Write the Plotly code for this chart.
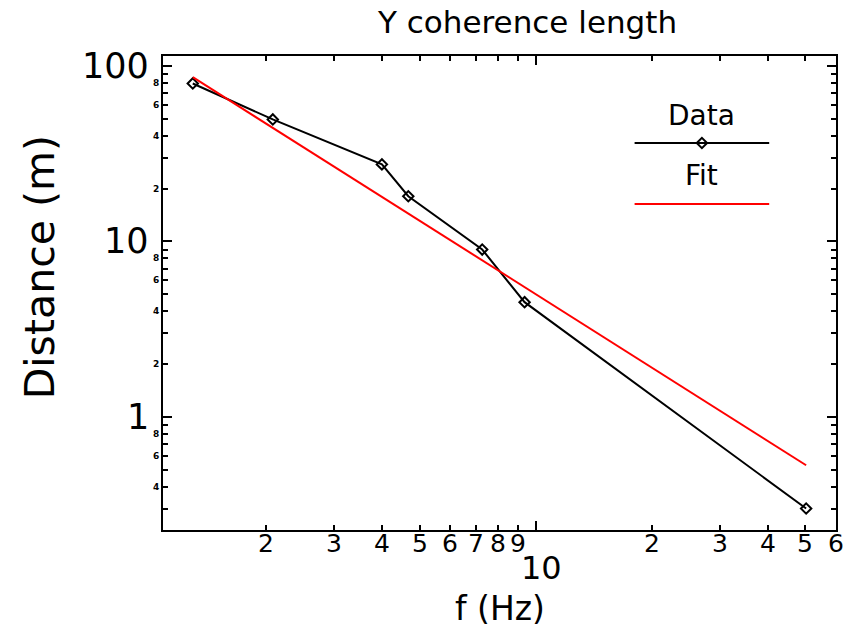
import numpy as np
import plotly.graph_objects as go

# ---- data ----
freq_hz = [1.29, 2.08, 3.99, 4.67, 7.26, 9.35, 50.2]
distance_m = [79.5, 49.6, 27.5, 18.1, 9.0, 4.51, 0.301]
fit_freq = [1.29, 50.2]
fit_dist = [86.3, 0.531]

x_minor_labels = [2, 3, 4, 5, 6, 7, 8, 9, 20, 30, 40, 50, 60]
x_major_labels = [10]
y_major_labels = [100, 10, 1]
y_minor_labels = [80, 60, 40, 20, 8, 6, 4, 2, 0.8, 0.6, 0.4]

title_text = "Y coherence length"
x_title = "f (Hz)"
y_title = "Distance (m)"
legend_names = ["Data", "Fit"]

# ---- layout geometry ----
W, H = 845, 627
L, R, T, B = 163, 838, 56, 530
PW, PH = R - L, B - T
FONT = "DejaVu Sans"


def fx(px):
    return (px - L) / PW


def fy(py):
    return (B - py) / PH


fig = go.Figure()

fig.add_trace(go.Scatter(
    x=freq_hz, y=distance_m, mode="lines+markers",
    line=dict(color="black", width=2),
    marker=dict(symbol="diamond-open", size=8, color="black", line=dict(width=2)),
    showlegend=False, hoverinfo="skip"))
fig.add_trace(go.Scatter(
    x=fit_freq, y=fit_dist, mode="lines",
    line=dict(color="#ff0000", width=2),
    showlegend=False, hoverinfo="skip"))

# legend (overlay axes in plot-area fractions)
lx0, lx1 = fx(636), fx(771)
fig.add_trace(go.Scatter(x=[lx0, lx1], y=[fy(143)] * 2, mode="lines",
                         line=dict(color="black", width=2),
                         xaxis="x2", yaxis="y2", showlegend=False, hoverinfo="skip"))
fig.add_trace(go.Scatter(x=[(lx0 + lx1) / 2], y=[fy(143)], mode="markers",
                         marker=dict(symbol="diamond-open", size=8, color="black",
                                     line=dict(width=2)),
                         xaxis="x2", yaxis="y2", showlegend=False, hoverinfo="skip"))
fig.add_trace(go.Scatter(x=[lx0, lx1], y=[fy(204)] * 2, mode="lines",
                         line=dict(color="#ff0000", width=2),
                         xaxis="x2", yaxis="y2", showlegend=False, hoverinfo="skip"))

xr = [np.log10(1.08), np.log10(60)]
yr = [np.log10(0.227), np.log10(114)]

axis_common = dict(
    type="log", showgrid=False, zeroline=False, showline=True,
    linecolor="black", linewidth=2, mirror="allticks",
    ticks="inside", ticklen=9, tickwidth=1.5, tickcolor="black",
    showticklabels=False,
)

fig.update_layout(
    width=W, height=H,
    margin=dict(l=L, r=W - R, t=T, b=H - B, pad=0),
    paper_bgcolor="white", plot_bgcolor="white",
    xaxis=dict(range=xr, tickmode="array", tickvals=[1, 10],
               minor=dict(tickmode="array",
                          tickvals=[2, 3, 4, 5, 6, 7, 8, 9, 20, 30, 40, 50, 60],
                          ticks="inside", ticklen=5, tickwidth=1.5, tickcolor="black"),
               **axis_common),
    yaxis=dict(range=yr, tickmode="array", tickvals=[1, 10, 100],
               minor=dict(tickmode="array",
                          tickvals=[0.3, 0.4, 0.5, 0.6, 0.7, 0.8, 0.9,
                                    2, 3, 4, 5, 6, 7, 8, 9,
                                    20, 30, 40, 50, 60, 70, 80, 90],
                          ticks="inside", ticklen=5, tickwidth=1.5, tickcolor="black"),
               **axis_common),
    xaxis2=dict(range=[0, 1], overlaying="x", anchor="y2", visible=False),
    yaxis2=dict(range=[0, 1], overlaying="y", anchor="x2", visible=False),
)

ann = []
# title
ann.append(dict(text=title_text, x=fx(528), y=fy(22), xref="paper", yref="paper",
                showarrow=False, font=dict(family=FONT, size=31, color="black"),
                xanchor="center", yanchor="middle"))
# axis titles
ann.append(dict(text=x_title, x=fx(501), y=fy(608), xref="paper", yref="paper",
                showarrow=False, font=dict(family=FONT, size=33, color="black"),
                xanchor="center", yanchor="middle", borderpad=0))
ann.append(dict(text=y_title, x=fx(40), y=fy(267), xref="paper", yref="paper",
                showarrow=False, textangle=-90,
                font=dict(family=FONT, size=41, color="black"),
                xanchor="center", yanchor="middle"))
# x tick labels
for v in x_minor_labels:
    lab = str(v)[0]
    ann.append(dict(text=lab, x=np.log10(v), y=fy(543), xref="x", yref="paper",
                    showarrow=False, font=dict(family=FONT, size=25, color="black"),
                    xanchor="center", yanchor="middle", borderpad=0))
for v in x_major_labels:
    ann.append(dict(text=str(v), x=np.log10(v), y=fy(568), xref="x", yref="paper",
                    showarrow=False, font=dict(family=FONT, size=32, color="black"),
                    xanchor="center", yanchor="middle", xshift=6, borderpad=0))
# y tick labels
for v in y_major_labels:
    ann.append(dict(text=str(v), x=fx(151), y=np.log10(v), xref="paper", yref="y",
                    showarrow=False, font=dict(family=FONT, size=35, color="black"),
                    xanchor="right", yanchor="middle"))
for v in y_minor_labels:
    lab = str(v).replace("0.", "").rstrip("0")[0]
    ann.append(dict(text="<b>%s</b>" % lab, x=fx(161), y=np.log10(v), xref="paper", yref="y",
                    showarrow=False, font=dict(family=FONT, size=9, color="black"),
                    xanchor="right", yanchor="middle"))
# legend labels
ann.append(dict(text=legend_names[0], x=fx(703), y=fy(115), xref="paper", yref="paper",
                showarrow=False, font=dict(family=FONT, size=28, color="black"),
                xanchor="center", yanchor="middle"))
ann.append(dict(text=legend_names[1], x=fx(703), y=fy(175), xref="paper", yref="paper",
                showarrow=False, font=dict(family=FONT, size=28, color="black"),
                xanchor="center", yanchor="middle"))

fig.update_layout(annotations=ann)
fig.write_html("out.html")
